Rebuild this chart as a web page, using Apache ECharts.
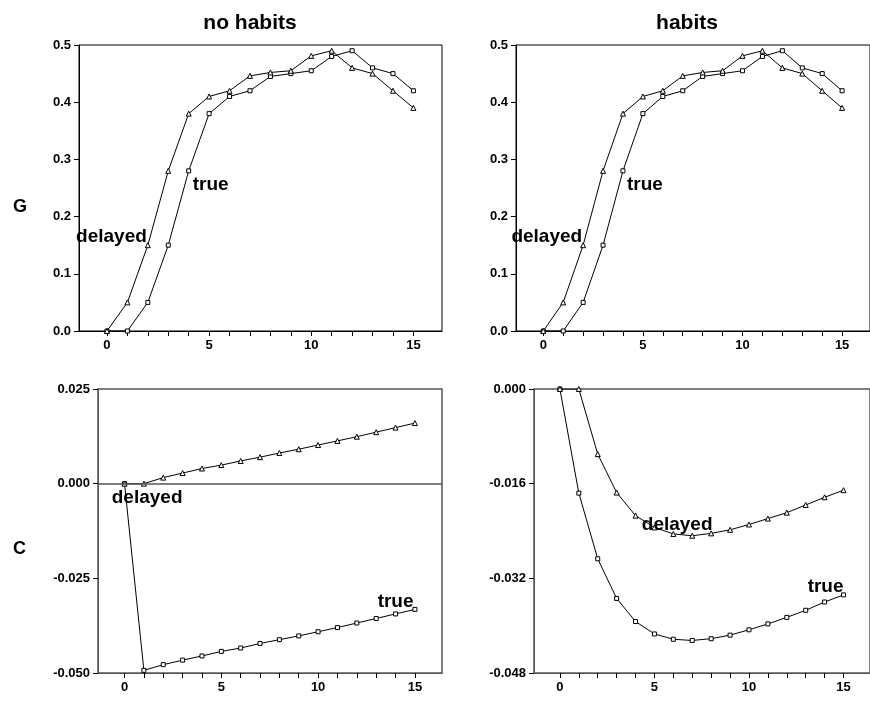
<!DOCTYPE html>
<html>
<head>
<meta charset="utf-8">
<script src="https://cdn.jsdelivr.net/npm/echarts@6/dist/echarts.min.js"></script>
<style>
  html, body { margin: 0; padding: 0; background: #fff; }
  #main { width: 870px; height: 704px; }
</style>
</head>
<body>
<div id="main"></div>
<script>
// periods 0..15
var periods = [0,1,2,3,4,5,6,7,8,9,10,11,12,13,14,15];

// G responses (same in both columns)
var gTrue    = [0, 0, 0.05, 0.15, 0.28, 0.38, 0.41, 0.42, 0.445, 0.45, 0.455, 0.48, 0.49, 0.46, 0.45, 0.42];
var gDelayed = [0, 0.05, 0.15, 0.28, 0.38, 0.41, 0.42, 0.446, 0.452, 0.455, 0.481, 0.49, 0.46, 0.45, 0.42, 0.39];

// C responses, no habits
var cTrueNoHab    = [0, -0.0493, -0.0478, -0.0466, -0.0455, -0.0443, -0.0434, -0.0422, -0.0412, -0.0402, -0.0391, -0.0380, -0.0368, -0.0356, -0.0344, -0.0332];
var cDelayedNoHab = [0, 0, 0.0016, 0.0028, 0.0040, 0.0049, 0.0060, 0.0070, 0.0081, 0.0091, 0.0102, 0.0113, 0.0124, 0.0136, 0.0148, 0.0160];

// C responses, habits
var cTrueHab    = [0, -0.0176, -0.0287, -0.0354, -0.0393, -0.0414, -0.0423, -0.0425, -0.0422, -0.0416, -0.0407, -0.0397, -0.0386, -0.0374, -0.0360, -0.0348];
var cDelayedHab = [0, 0, -0.0110, -0.0175, -0.0214, -0.0234, -0.0245, -0.0248, -0.0244, -0.0238, -0.0229, -0.0219, -0.0209, -0.0196, -0.0183, -0.0171];

var xTicks  = periods;
var xLabels = [0, 5, 10, 15];

function pairs(ys) {
    return periods.map(function (t, i) { return [t, ys[i]]; });
}

var font = 'Liberation Sans, Arial, Helvetica, sans-serif';

function mkGrid(l, t, w, h, bc, bw) {
    return { left: l, top: t, width: w, height: h, show: true, borderColor: bc, borderWidth: bw, backgroundColor: 'transparent' };
}

function mkX(gi, col) {
    return {
        type: 'value', gridIndex: gi, min: -1.37, max: 16.4,
        axisLine: { onZero: false, lineStyle: { color: col, width: 1 } },
        axisTick: { show: true, length: 5, customValues: xTicks, lineStyle: { color: '#000' } },
        axisLabel: { customValues: xLabels, color: '#000', fontWeight: 'bold', fontSize: 13, fontFamily: font, margin: 8 },
        splitLine: { show: false }
    };
}

function mkY(gi, min, max, step, dec, col) {
    return {
        type: 'value', gridIndex: gi, min: min, max: max, interval: step,
        axisLine: { show: true, onZero: false, lineStyle: { color: col, width: 1 } },
        axisTick: { show: true, length: 5, lineStyle: { color: '#000' } },
        axisLabel: {
            color: '#000', fontWeight: 'bold', fontSize: 13, fontFamily: font, margin: 8,
            formatter: function (v) {
                var s = v.toFixed(dec);
                if (Math.abs(v) < 1e-9) s = (0).toFixed(dec);
                return s;
            }
        },
        splitLine: { show: false }
    };
}

function mkSeries(name, gi, ys, sym) {
    return {
        name: name, type: 'line', xAxisIndex: gi, yAxisIndex: gi,
        data: pairs(ys),
        symbol: sym, symbolSize: sym === 'rect' ? 4 : 5,
        showAllSymbol: true,
        lineStyle: { color: '#000', width: 1 },
        itemStyle: { color: '#fff', borderColor: '#000', borderWidth: 1 },
        animation: false, z: 3
    };
}

var chart = echarts.init(document.getElementById('main'));

var zeroSeries = mkSeries('zero', 2, cDelayedNoHab, 'triangle');
zeroSeries.markLine = {
    silent: true, symbol: 'none', label: { show: false },
    lineStyle: { color: '#555', width: 1.5, type: 'solid' },
    data: [{ yAxis: 0 }]
};

chart.setOption({
    animation: false,
    backgroundColor: '#fff',
    title: [
        { text: 'no habits', left: 245, top: 8, textAlign: 'center', textStyle: { fontSize: 21, fontWeight: 'bold', fontFamily: font, color: '#000' } },
        { text: 'habits', left: 682, top: 8, textAlign: 'center', textStyle: { fontSize: 21, fontWeight: 'bold', fontFamily: font, color: '#000' } },
        { text: 'G', left: 8, top: 193, textStyle: { fontSize: 18, fontWeight: 'bold', fontFamily: font, color: '#000' } },
        { text: 'C', left: 8, top: 535, textStyle: { fontSize: 18, fontWeight: 'bold', fontFamily: font, color: '#000' } }
    ],
    grid: [
        mkGrid(79, 45, 363, 286, '#000', 1),
        mkGrid(516, 45, 363, 286, '#000', 1),
        mkGrid(98, 389, 344, 284, '#555', 1.5),
        mkGrid(534, 389, 344, 284, '#555', 1.5)
    ],
    xAxis: [mkX(0, '#000'), mkX(1, '#000'), mkX(2, '#555'), mkX(3, '#555')],
    yAxis: [
        mkY(0, 0, 0.5, 0.1, 1, '#000'),
        mkY(1, 0, 0.5, 0.1, 1, '#000'),
        mkY(2, -0.05, 0.025, 0.025, 3, '#555'),
        mkY(3, -0.048, 0, 0.016, 3, '#555')
    ],
    series: [
        mkSeries('G true', 0, gTrue, 'rect'),
        mkSeries('G delayed', 0, gDelayed, 'triangle'),
        mkSeries('G true h', 1, gTrue, 'rect'),
        mkSeries('G delayed h', 1, gDelayed, 'triangle'),
        mkSeries('C true', 2, cTrueNoHab, 'rect'),
        zeroSeries,
        mkSeries('C true h', 3, cTrueHab, 'rect'),
        mkSeries('C delayed h', 3, cDelayedHab, 'triangle')
    ]
});

// curve labels, anchored in data coordinates
var notes = [
    { g: 0, txt: 'true',    at: [4.2, 0.255],     align: 'left' },
    { g: 0, txt: 'delayed', at: [1.95, 0.164],    align: 'right' },
    { g: 1, txt: 'true',    at: [4.2, 0.255],     align: 'left' },
    { g: 1, txt: 'delayed', at: [1.95, 0.164],    align: 'right' },
    { g: 2, txt: 'delayed', at: [-0.66, -0.0038], align: 'left' },
    { g: 2, txt: 'true',    at: [14.93, -0.0312], align: 'right' },
    { g: 3, txt: 'delayed', at: [4.33, -0.0230],  align: 'left' },
    { g: 3, txt: 'true',    at: [15.0, -0.0334],  align: 'right' }
];

chart.setOption({
    graphic: notes.map(function (n) {
        var p = chart.convertToPixel({ gridIndex: n.g }, n.at);
        return {
            type: 'text', x: p[0], y: p[1], z: 10,
            style: { text: n.txt, fill: '#000', font: 'bold 19px ' + font, textAlign: n.align, textVerticalAlign: 'middle' }
        };
    })
});
</script>
</body>
</html>
